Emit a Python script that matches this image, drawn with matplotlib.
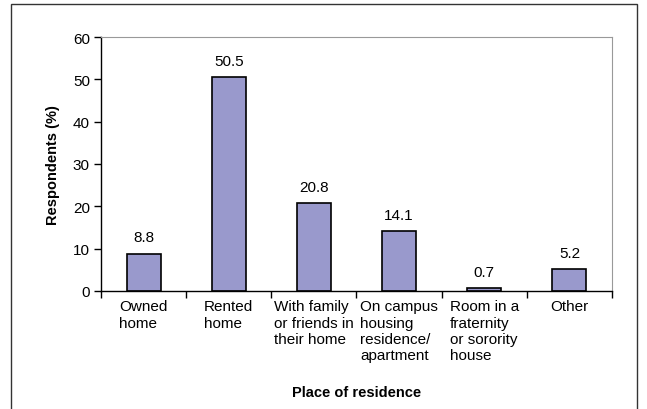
import matplotlib
matplotlib.use("Agg")
import matplotlib.pyplot as plt
from matplotlib.patches import Rectangle

categories = ["Owned\nhome", "Rented\nhome", "With family\nor friends in\ntheir home",
              "On campus\nhousing\nresidence/\napartment", "Room in a\nfraternity\nor sorority\nhouse", "Other"]
values = [8.8, 50.5, 20.8, 14.1, 0.7, 5.2]
yticks = [0, 10, 20, 30, 40, 50, 60]

plt.rcParams['font.family'] = ['Liberation Sans', 'DejaVu Sans']

W, H = 647, 410
fig = plt.figure(figsize=(W/100, H/100), dpi=100)
# outer border
fig.patches.append(Rectangle((11/W, -0.05), (637-11)/W, (H-5)/H + 0.05, transform=fig.transFigure,
                             fill=False, edgecolor='#333333', linewidth=1.0))

left, right, top, bottom = 101, 612, 38, 292
ax = fig.add_axes([left/W, 1-bottom/H, (right-left)/W, (bottom-top)/H])
x = list(range(len(values)))
ax.bar(x, values, width=0.4, color='#9999CC', edgecolor='black', linewidth=1.2)
ax.set_xlim(-0.5, len(values)-0.5)
ax.set_ylim(0, 60)
ax.set_yticks(yticks)
ax.tick_params(axis='y', labelsize=11, length=5, width=1, direction='out', pad=3)
for s in ['top', 'right']:
    ax.spines[s].set_color('#999999')
    ax.spines[s].set_linewidth(0.8)
for s in ['left', 'bottom']:
    ax.spines[s].set_color('black')
    ax.spines[s].set_linewidth(1.0)

ax.set_xticks([i - 0.5 for i in range(len(values)+1)])
ax.set_xticklabels([])
ax.tick_params(axis='x', length=5, width=1, direction='out')
for i, c in enumerate(categories):
    ax.text(i, -2.0, c, ha='center', va='top', multialignment='left', fontsize=11,
            linespacing=1.2, transform=ax.transData)
for i, v in enumerate(values):
    ax.text(i, v + 2.2, f"{v}", ha='center', va='bottom', fontsize=11)

ax.set_ylabel("Respondents (%)", fontsize=10.5, fontweight='bold')
ax.yaxis.set_label_coords(-41/(right-left), 0.5)
fig.text((left+right)/2/W, 1-393/H, "Place of residence", ha='center', va='center',
         fontsize=10.5, fontweight='bold')

fig.savefig("out.png", dpi=100)
